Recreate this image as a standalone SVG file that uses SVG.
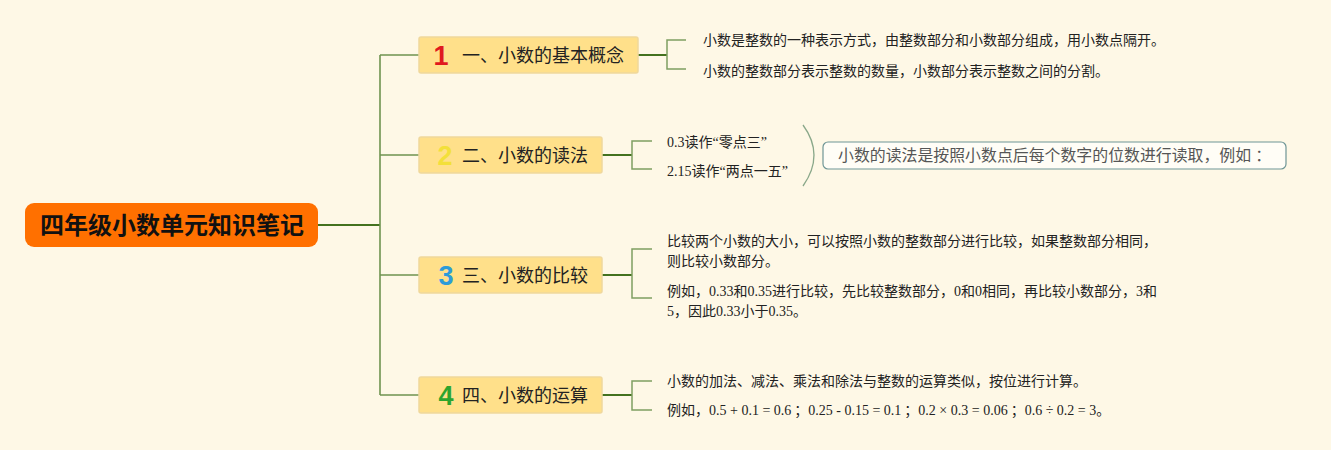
<svg xmlns="http://www.w3.org/2000/svg" width="1331" height="450" viewBox="0 0 1331 450">
<style>
.bg{fill:#FEF8E6}
.main{fill:none;stroke:#44721f;stroke-width:2}
.br{fill:none;stroke:#6f9350;stroke-width:1.6}
.sub{fill:none;stroke:#7f9f62;stroke-width:1.5}
.node{fill:#FFE08A;stroke:#F0D89C;stroke-width:1.5}
.title{font-family:"Noto Sans CJK SC","Noto Sans",sans-serif;font-size:18px;fill:#222}
.num{font-family:"Liberation Sans","DejaVu Sans",sans-serif;font-size:27px;font-weight:bold}
.txt{font-family:"Liberation Serif","Noto Sans CJK SC",serif;font-size:14px;fill:#222}
</style>
<rect class="bg" x="0" y="0" width="1331" height="450"/>
<g id="connectors">
<path class="main" d="M318,225 H380"/>
<path class="br" d="M380,55 V395 M380,55 H419 M380,155 H419 M380,275 H419 M380,395 H419"/>
<path class="main" d="M638,55 H667 M602,155 H632 M602,275 H632 M602,395 H632"/>
<path class="sub" d="M686,40 H667 V69 H686"/>
<path class="sub" d="M652,141 H632 V169 H652"/>
<path class="sub" d="M652,249 H632 V298 H652"/>
<path class="sub" d="M652,381 H632 V410 H652"/>
<path fill="none" stroke="#8aa88a" stroke-width="1.3" d="M803,125 Q825,155 803,186"/>
</g>
<g id="root">
<rect x="25" y="203" width="293" height="44" rx="9" fill="#FF7000"/>
<text x="172" y="234" text-anchor="middle" font-family="Noto Sans CJK SC,sans-serif" font-size="24" font-weight="bold" fill="#111">四年级小数单元知识笔记</text>
</g>
<g id="topic1">
<rect class="node" x="419" y="37" width="219" height="36" rx="2"/>
<text class="num" x="441" y="65" fill="#E0191E" text-anchor="middle">1</text>
<text class="title" x="462" y="62">一、小数的基本概念</text>
</g>
<g id="topic2">
<rect class="node" x="419" y="137" width="183" height="36" rx="2"/>
<text class="num" x="445" y="165" fill="#F3E03A" text-anchor="middle">2</text>
<text class="title" x="462" y="162">二、小数的读法</text>
</g>
<g id="topic3">
<rect class="node" x="419" y="257" width="183" height="36" rx="2"/>
<text class="num" x="446" y="285" fill="#2C9BD8" text-anchor="middle">3</text>
<text class="title" x="462" y="282">三、小数的比较</text>
</g>
<g id="topic4">
<rect class="node" x="419" y="377" width="183" height="36" rx="2"/>
<text class="num" x="446" y="405" fill="#2DA42E" text-anchor="middle">4</text>
<text class="title" x="462" y="402">四、小数的运算</text>
</g>
<g id="sub1">
<text class="txt" x="703" y="45">小数是整数的一种表示方式，由整数部分和小数部分组成，用小数点隔开。</text>
<text class="txt" x="703" y="76">小数的整数部分表示整数的数量，小数部分表示整数之间的分割。</text>
</g>
<g id="sub2">
<text class="txt" x="667" y="147">0.3读作“零点三”</text>
<text class="txt" x="667" y="176">2.15读作“两点一五”</text>
</g>
<g id="summary">
<rect x="823" y="142" width="463" height="27" rx="5" fill="#FFFDF6" stroke="#6f9696" stroke-width="1.2"/>
<text x="838" y="161" font-family="Noto Sans CJK SC,sans-serif" font-size="15.9" fill="#555">小数的读法是按照小数点后每个数字的位数进行读取，例如<tspan dx="4">：</tspan></text>
</g>
<g id="sub3">
<text class="txt" x="667" y="246">比较两个小数的大小，可以按照小数的整数部分进行比较，如果整数部分相同，</text>
<text class="txt" x="667" y="266">则比较小数部分。</text>
<text class="txt" x="667" y="296">例如，0.33和0.35进行比较，先比较整数部分，0和0相同，再比较小数部分，3和</text>
<text class="txt" x="667" y="316">5，因此0.33小于0.35。</text>
</g>
<g id="sub4">
<text class="txt" x="667" y="415">例如，0.5 + 0.1 = 0.6<tspan dx="3">；</tspan>0.25 - 0.15 = 0.1<tspan dx="3">；</tspan>0.2 × 0.3 = 0.06<tspan dx="3">；</tspan>0.6 ÷ 0.2 = 3。</text>
<text class="txt" x="667" y="386">小数的加法、减法、乘法和除法与整数的运算类似，按位进行计算。</text>
</g>
</svg>
